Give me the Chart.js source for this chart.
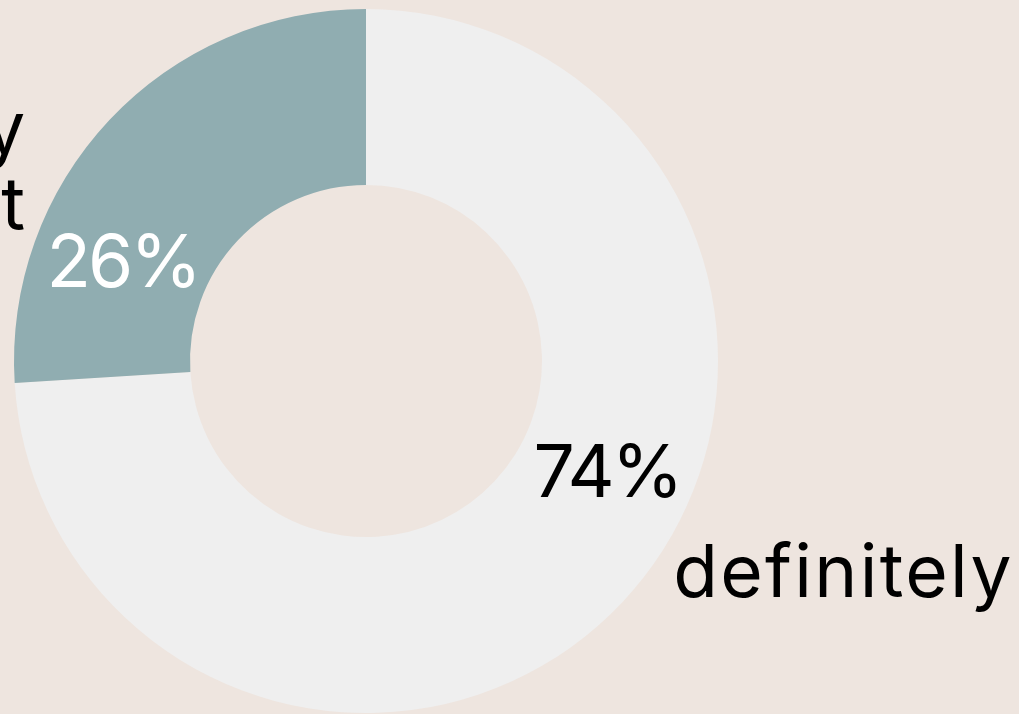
<!DOCTYPE html>
<html>
<head>
<meta charset="utf-8">
<script src="https://cdn.jsdelivr.net/npm/chart.js@4"></script>
<style>
  html, body { margin: 0; padding: 0; background: #eee5df; overflow: hidden; }
  #wrap { width: 1019px; height: 714px; position: relative; }
</style>
</head>
<body>
<div id="wrap"><canvas id="chart" width="1019" height="714"></canvas></div>
<script>
// Data
const categories = ['definitely', 'probably\nnot'];
const shares = [74, 26];
const sliceColors = ['#efefef', '#90adb1'];
const pctColors = ['#000000', '#ffffff'];

const FONT = '"Inter", "Noto Sans", sans-serif';

// where each label sits relative to its arc (angle offset from mid-angle in degrees,
// outer label angle/radius as multiples of the outer radius)
const labelPlacement = [
  { pctShift: -18, outerAngle: 37.5, outerR: 1.10, align: 'left' },
  { pctShift: -21.5, outerAngle: 206.55, outerR: 1.075, align: 'right' }
];

const sliceLabels = {
  id: 'sliceLabels',
  afterDatasetsDraw(chart) {
    const ctx = chart.ctx;
    const arcs = chart.getDatasetMeta(0).data;
    ctx.save();
    arcs.forEach((arc, i) => {
      const p = labelPlacement[i];
      const mid = (arc.startAngle + arc.endAngle) / 2 + p.pctShift * Math.PI / 180;
      const r = (arc.innerRadius + arc.outerRadius) / 2;
      ctx.font = '400 73px ' + FONT;
      ctx.letterSpacing = '-3px';
      ctx.fillStyle = pctColors[i];
      ctx.textAlign = 'center';
      ctx.textBaseline = 'middle';
      ctx.fillText(shares[i] + '%', arc.x + Math.cos(mid) * r + 2, arc.y + Math.sin(mid) * r + 2);

      // category label outside the ring
      const a = p.outerAngle * Math.PI / 180;
      const ro = arc.outerRadius * p.outerR;
      const ax = arc.x + Math.cos(a) * ro;
      const ay = arc.y + Math.sin(a) * ro;
      const lines = categories[i].split('\n');
      const lh = 76;
      ctx.letterSpacing = '2.3px';
      ctx.fillStyle = '#000000';
      ctx.textAlign = p.align;
      ctx.textBaseline = 'alphabetic';
      lines.forEach((ln, k) => {
        const by = ay + (k - (lines.length - 1) / 2) * lh;
        ctx.fillText(ln, ax, by);
      });
    });
    ctx.restore();
  }
};

new Chart(document.getElementById('chart'), {
  type: 'doughnut',
  data: {
    labels: categories,
    datasets: [{
      data: shares,
      backgroundColor: sliceColors,
      borderWidth: 0
    }]
  },
  options: {
    responsive: false,
    animation: false,
    cutout: '50%',
    layout: { padding: { top: 9, bottom: 1, left: 14, right: 301 } },
    plugins: {
      legend: { display: false },
      tooltip: { enabled: false }
    }
  },
  plugins: [sliceLabels]
});
</script>
</body>
</html>
